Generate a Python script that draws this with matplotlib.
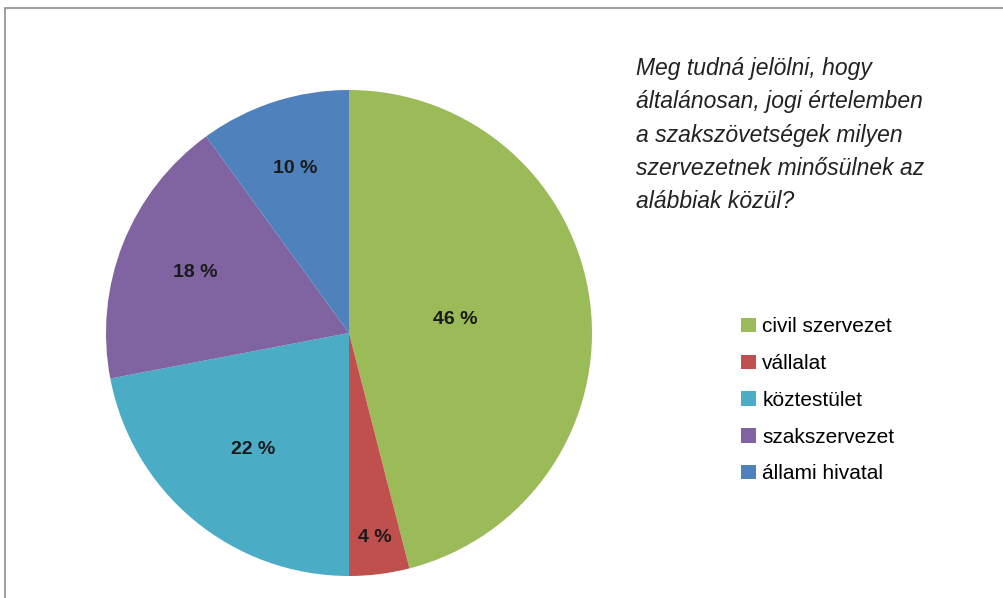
import matplotlib.pyplot as plt
import numpy as np
from matplotlib.patches import Patch, Rectangle

categories = ["civil szervezet", "vállalat", "köztestület", "szakszervezet", "állami hivatal"]
values = [46, 4, 22, 18, 10]
colors = ["#9BBB59", "#C0504D", "#4BACC6", "#8064A2", "#4F81BD"]
question = ("Meg tudná jelölni, hogy\náltalánosan, jogi értelemben\n"
            "a szakszövetségek milyen\nszervezetnek minősülnek az\nalábbiak közül?")

# label distance from centre (fraction of radius), per slice
label_r = [0.44, 0.85, 0.62, 0.68, 0.71]

plt.rcParams["font.family"] = ["Liberation Sans", "DejaVu Sans"]

W, H = 1004, 598
fig = plt.figure(figsize=(W / 100, H / 100), dpi=100)

# frame
fig.patches.append(Rectangle((5 / W, -0.1), 2, 1 - 8 / H + 0.1, transform=fig.transFigure,
                             fill=False, edgecolor="#8c8c8c", linewidth=1.2))

cx, cy, r = 349, 333, 243
ax = fig.add_axes([(cx - r) / W, (H - cy - r) / H, 2 * r / W, 2 * r / H])
wedges, _ = ax.pie(values, colors=colors, startangle=90, counterclock=False,
                   radius=1, wedgeprops=dict(linewidth=0))
ax.set_xlim(-1, 1)
ax.set_ylim(-1, 1)
ax.set_aspect("equal")
ax.axis("off")

for w, v, lr in zip(wedges, values, label_r):
    ang = np.deg2rad((w.theta1 + w.theta2) / 2)
    ax.text(lr * np.cos(ang), lr * np.sin(ang), f"{v} %", ha="center", va="center",
            fontsize=14, fontweight="bold", color="#1a1a1a")

fig.text(636 / W, 1 - 57 / H, question, ha="left", va="top", fontsize=16.5,
         style="italic", color="#222222", linespacing=1.57)

handles = [Patch(facecolor=c, edgecolor="none") for c in colors]
fig.legend(handles, categories, loc="upper left", bbox_to_anchor=(731 / W, 1 - 307 / H),
           frameon=False, fontsize=15, handlelength=0.7, handleheight=0.7,
           handletextpad=0.3, labelspacing=0.85, borderpad=0)

fig.savefig("out.png", dpi=100)
